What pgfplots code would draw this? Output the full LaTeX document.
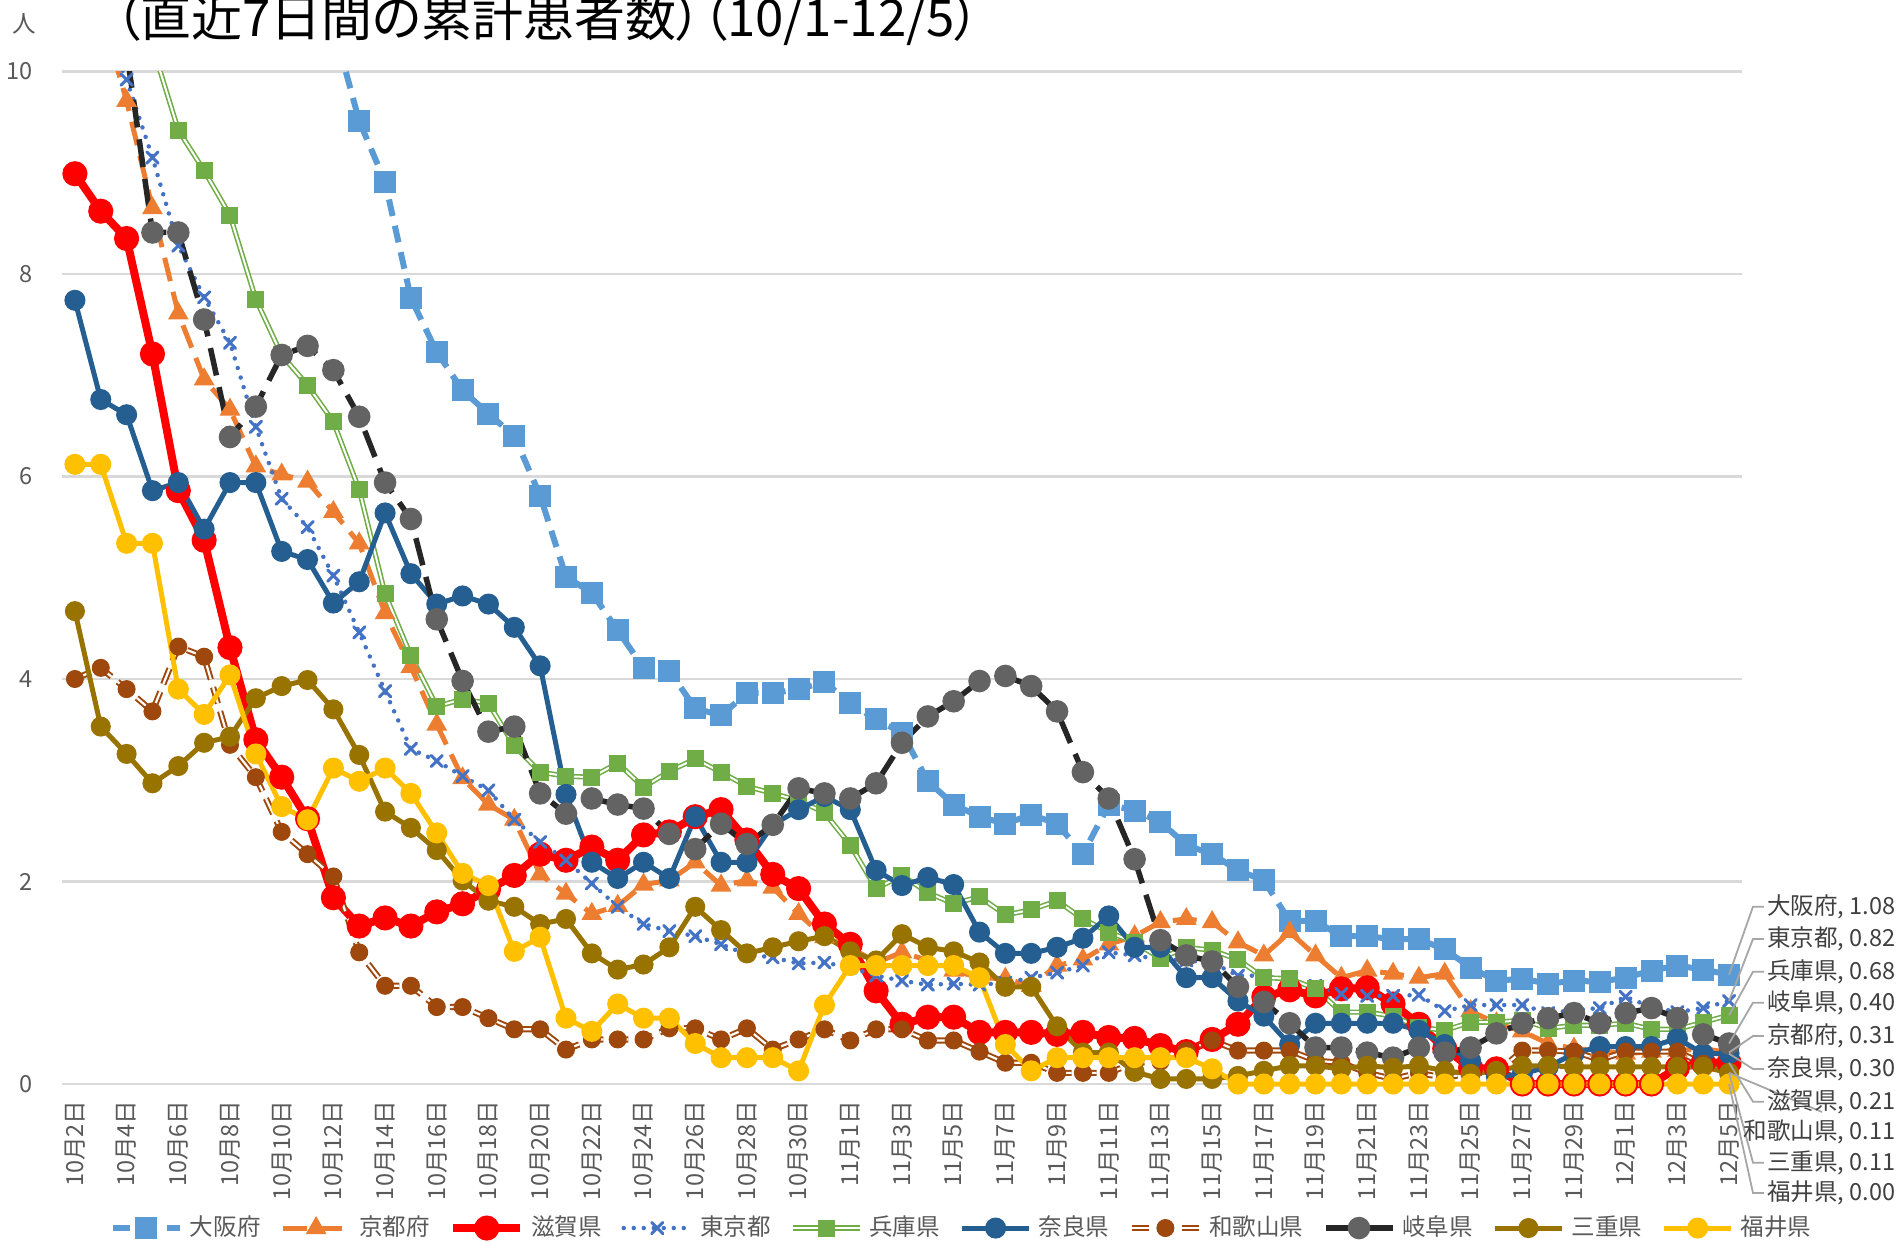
\documentclass[border=0pt]{standalone}
\usepackage{fontspec}
\setmainfont{Noto Sans CJK JP}
\usepackage{pgfplots}
\usepackage{pgfplotstable}
\pgfplotsset{compat=1.18}

\definecolor{cO}{HTML}{5B9BD5}
\definecolor{cK}{HTML}{ED7D31}
\definecolor{cS}{HTML}{FF0000}
\definecolor{cT}{HTML}{4472C4}
\definecolor{cH}{HTML}{70AD47}
\definecolor{cN}{HTML}{255E91}
\definecolor{cW}{HTML}{9E480E}
\definecolor{cGl}{HTML}{262626}
\definecolor{cGm}{HTML}{636363}
\definecolor{cM}{HTML}{997300}
\definecolor{cF}{HTML}{FFC000}
\definecolor{cGrid}{HTML}{D9D9D9}
\definecolor{cTxt}{HTML}{595959}
\definecolor{cLab}{HTML}{404040}
\definecolor{cLead}{HTML}{A6A6A6}

\pgfplotstableread{
i O K S T H N W G M F
0 15.5 11.5 8.99 11.2 12.5 7.74 4.00 11.6 4.67 6.12
1 15.0 10.6 8.62 10.5 11.8 6.76 4.11 11.0 3.53 6.12
2 14.5 9.71 8.35 9.92 11.0 6.61 3.90 10.2 3.26 5.34
3 14.0 8.65 7.21 9.15 10.25 5.86 3.68 8.41 2.97 5.34
4 13.6 7.61 5.86 8.28 9.42 5.94 4.32 8.41 3.14 3.90
5 13.1 6.96 5.37 7.77 9.02 5.48 4.22 7.55 3.37 3.65
6 12.6 6.66 4.31 7.32 8.58 5.94 3.35 6.39 3.43 4.04
7 12.1 6.10 3.40 6.49 7.75 5.94 3.03 6.69 3.81 3.26
8 11.6 6.02 3.03 5.78 7.20 5.26 2.49 7.20 3.93 2.74
9 11.0 5.95 2.62 5.50 6.90 5.18 2.27 7.29 3.99 2.61
10 10.45 5.65 1.84 5.02 6.54 4.75 2.05 7.05 3.70 3.12
11 9.51 5.34 1.56 4.46 5.87 4.96 1.30 6.59 3.25 2.99
12 8.91 4.65 1.64 3.88 4.84 5.64 0.97 5.94 2.69 3.12
13 7.76 4.12 1.56 3.31 4.23 5.04 0.97 5.58 2.53 2.87
14 7.23 3.55 1.70 3.19 3.73 4.74 0.76 4.59 2.31 2.48
15 6.85 3.02 1.78 3.04 3.80 4.82 0.76 3.98 2.01 2.08
16 6.62 2.76 1.92 2.90 3.76 4.74 0.65 3.48 1.81 1.96
17 6.40 2.61 2.06 2.61 3.34 4.51 0.54 3.53 1.75 1.31
18 5.81 2.07 2.27 2.39 3.08 4.13 0.54 2.87 1.58 1.45
19 5.01 1.88 2.21 2.21 3.04 2.86 0.34 2.67 1.63 0.65
20 4.85 1.68 2.34 1.98 3.03 2.19 0.44 2.82 1.29 0.52
21 4.48 1.76 2.21 1.75 3.17 2.03 0.44 2.76 1.13 0.79
22 4.11 1.97 2.46 1.58 2.93 2.19 0.44 2.72 1.18 0.65
23 4.08 2.01 2.49 1.51 3.09 2.03 0.55 2.47 1.35 0.65
24 3.71 2.19 2.64 1.46 3.21 2.64 0.55 2.32 1.75 0.40
25 3.64 1.96 2.71 1.38 3.08 2.19 0.44 2.57 1.52 0.26
26 3.86 2.01 2.41 1.28 2.94 2.19 0.55 2.37 1.29 0.26
27 3.86 1.94 2.07 1.25 2.87 2.56 0.34 2.56 1.35 0.26
28 3.90 1.68 1.93 1.19 2.80 2.71 0.44 2.92 1.41 0.13
29 3.97 1.45 1.58 1.20 2.68 2.84 0.54 2.87 1.46 0.78
30 3.76 1.35 1.38 1.15 2.36 2.71 0.43 2.82 1.31 1.17
31 3.60 1.20 0.92 1.07 1.93 2.11 0.54 2.97 1.22 1.17
32 3.47 1.30 0.59 1.02 2.06 1.96 0.54 3.37 1.48 1.17
33 2.99 1.22 0.66 0.98 1.89 2.04 0.43 3.63 1.35 1.17
34 2.76 1.12 0.66 0.99 1.78 1.97 0.43 3.78 1.31 1.17
35 2.64 1.05 0.51 0.98 1.85 1.50 0.32 3.98 1.20 1.05
36 2.57 1.04 0.51 1.00 1.67 1.29 0.21 4.03 0.96 0.39
37 2.66 0.97 0.51 1.05 1.72 1.29 0.21 3.93 0.96 0.13
38 2.57 1.17 0.49 1.10 1.81 1.35 0.11 3.68 0.57 0.26
39 2.27 1.23 0.51 1.17 1.63 1.44 0.11 3.08 0.31 0.26
40 2.76 1.38 0.46 1.30 1.50 1.66 0.11 2.82 0.31 0.26
41 2.70 1.46 0.45 1.27 1.40 1.35 0.21 2.22 0.12 0.26
42 2.59 1.60 0.38 1.23 1.24 1.35 0.22 1.42 0.05 0.26
43 2.36 1.63 0.32 1.22 1.35 1.05 0.33 1.27 0.05 0.26
44 2.27 1.60 0.44 1.20 1.32 1.05 0.43 1.21 0.05 0.15
45 2.11 1.40 0.59 1.07 1.23 0.82 0.33 0.96 0.08 0
46 2.01 1.27 0.86 1.07 1.05 0.67 0.33 0.81 0.13 0
47 1.61 1.50 0.93 1.02 1.04 0.39 0.33 0.60 0.18 0
48 1.61 1.27 0.87 0.97 0.94 0.60 0.23 0.36 0.18 0
49 1.46 1.05 0.94 0.89 0.71 0.60 0.21 0.36 0.15 0
50 1.46 1.12 0.95 0.87 0.71 0.60 0.11 0.31 0.18 0
51 1.43 1.09 0.79 0.87 0.67 0.60 0.05 0.26 0.16 0
52 1.43 1.05 0.59 0.88 0.56 0.53 0.11 0.36 0.18 0
53 1.33 1.09 0.35 0.72 0.53 0.39 0.06 0.31 0.13 0
54 1.15 0.72 0.16 0.78 0.61 0.23 0.11 0.36 0.10 0
55 1.02 0.60 0.15 0.78 0.61 0.07 0.11 0.50 0.13 0
56 1.04 0.52 0 0.78 0.63 0.10 0.33 0.60 0.18 0
57 0.99 0.40 0 0.70 0.55 0.17 0.33 0.65 0.18 0
58 1.02 0.35 0 0.73 0.58 0.30 0.32 0.70 0.17 0
59 1.01 0.33 0 0.75 0.58 0.37 0.24 0.60 0.17 0
60 1.05 0.30 0 0.86 0.60 0.37 0.32 0.70 0.17 0
61 1.12 0.32 0 0.76 0.54 0.37 0.32 0.75 0.17 0
62 1.17 0.33 0.16 0.71 0.54 0.45 0.32 0.65 0.17 0
63 1.13 0.35 0.21 0.75 0.61 0.30 0.20 0.49 0.17 0
64 1.08 0.31 0.21 0.82 0.68 0.30 0.11 0.40 0.11 0
}\data

\newcommand{\fs}{\fontsize{6.7}{8}\selectfont}

\begin{document}
\begin{tikzpicture}
\begin{axis}[
  at={(6.2mm,12.76mm)}, anchor=south west,
  width=168mm, height=104.29mm, scale only axis,
  xmin=-0.5, xmax=64.5, ymin=-0.3, ymax=10,
  xtick={0,2,...,64},
  xticklabels={10月2日,10月4日,10月6日,10月8日,10月10日,10月12日,10月14日,10月16日,10月18日,10月20日,10月22日,10月24日,10月26日,10月28日,10月30日,11月1日,11月3日,11月5日,11月7日,11月9日,11月11日,11月13日,11月15日,11月17日,11月19日,11月21日,11月23日,11月25日,11月27日,11月29日,12月1日,12月3日,12月5日},
  ytick={0,2,...,10},
  ymajorgrids, major grid style={draw=cGrid, line width=0.22mm},
  axis line style={draw=none}, major tick length=0pt,
  tick label style={font=\fs, text=cTxt},
  xticklabel style={rotate=90, anchor=east, inner sep=0pt},
  xticklabel shift=-1.44mm,
  yticklabel style={anchor=east, inner sep=0pt},
  yticklabel shift=2.9mm,
  /pgf/number format/assume math mode=true,
  legend columns=10,
  legend style={at={(0.537,-0.109)}, anchor=center, draw=none, fill=none,
    font=\fs, text=cTxt, inner sep=0pt,
    /tikz/every even column/.append style={column sep=1.25mm}},
  legend image code/.code={\draw[mark repeat=2,mark phase=2] plot coordinates {(0mm,0mm) (3.35mm,0mm) (6.7mm,0mm)};},
]
\addplot[draw=cO, line width=0.6mm, dash pattern=on 1.7mm off 1.0mm, mark=square*, mark size=0.8mm, mark options={solid, fill=cO, draw=cO}] table[x=i,y=O]{\data};
\addlegendentry{大阪府}
\addplot[draw=cK, line width=0.5mm, dash pattern=on 2.4mm off 1.1mm, mark=triangle*, mark size=0.7mm, mark options={solid, fill=cK, draw=cK}] table[x=i,y=K]{\data};
\addlegendentry{京都府}
\addplot[draw=cS, line width=0.8mm, mark=*, mark size=0.85mm, mark options={solid, fill=cS, draw=cS}] table[x=i,y=S]{\data};
\addlegendentry{滋賀県}
\addplot[draw=cT, line width=0.45mm, line cap=round, dash pattern=on 0pt off 1.0mm, mark=x, mark size=0.8mm, mark options={solid, draw=cT, line width=0.3mm}] table[x=i,y=T]{\data};
\addlegendentry{東京都}
\addplot[draw=cH, line width=0.16mm, double=white, double distance=0.2mm, mark=square*, mark size=0.8mm, mark options={solid, fill=cH, draw=cH, line width=0.1mm}] table[x=i,y=H]{\data};
\addlegendentry{兵庫県}
\addplot[draw=cN, line width=0.5mm, mark=*, mark size=0.8mm, mark options={solid, fill=cN, draw=cN}] table[x=i,y=N]{\data};
\addlegendentry{奈良県}
\addplot[draw=cW, line width=0.2mm, double=white, double distance=0.22mm, dash pattern=on 1.7mm off 0.8mm, mark=*, mark size=0.85mm, mark options={solid, fill=cW, draw=cW, line width=0.1mm}] table[x=i,y=W]{\data};
\addlegendentry{和歌山県}
\addplot[draw=cGl, line width=0.55mm, dash pattern=on 2.8mm off 1.2mm, mark=*, mark size=0.85mm, mark options={solid, fill=cGm, draw=cGm}] table[x=i,y=G]{\data};
\addlegendentry{岐阜県}
\addplot[draw=cM, line width=0.5mm, mark=*, mark size=0.75mm, mark options={solid, fill=cM, draw=cM}] table[x=i,y=M]{\data};
\addlegendentry{三重県}
\addplot[draw=cF, line width=0.5mm, mark=*, mark size=0.8mm, mark options={solid, fill=cF, draw=cF}] table[x=i,y=F]{\data};
\addlegendentry{福井県}

\coordinate (pO) at (axis cs:64,1.08);
\coordinate (pT) at (axis cs:64,0.82);
\coordinate (pH) at (axis cs:64,0.68);
\coordinate (pG) at (axis cs:64,0.40);
\coordinate (pK) at (axis cs:64,0.31);
\coordinate (pN) at (axis cs:64,0.30);
\coordinate (pS) at (axis cs:64,0.21);
\coordinate (pW) at (axis cs:64,0.11);
\coordinate (pM) at (axis cs:64,0.11);
\coordinate (pF) at (axis cs:64,0.00);
\end{axis}

% leader lines
\begin{scope}[draw=cLead, line width=0.18mm]
\draw (pO) -- (175.3mm,33.53mm) -- (176.4mm,33.53mm);
\draw (pT) -- (175.3mm,30.30mm) -- (176.4mm,30.30mm);
\draw (pH) -- (175.3mm,27.03mm) -- (176.4mm,27.03mm);
\draw (pG) -- (175.3mm,23.93mm) -- (176.4mm,23.93mm);
\draw (pK) -- (175.3mm,20.60mm) -- (176.4mm,20.60mm);
\draw (pN) -- (175.3mm,17.30mm) -- (176.4mm,17.30mm);
\draw (pS) -- (175.3mm,14.03mm) -- (176.4mm,14.03mm);
\draw (pW) -- (182.2mm,13.0mm);
\draw (pM) -- (175.3mm,7.93mm) -- (176.4mm,7.93mm);
\draw (pF) -- (175.3mm,4.90mm) -- (176.4mm,4.90mm);
\end{scope}

\begin{scope}[every node/.style={anchor=east, font=\fs, text=cLab, inner sep=0pt}]
\node at (189.6mm,33.53mm) {大阪府, 1.08};
\node at (189.6mm,30.30mm) {東京都, 0.82};
\node at (189.6mm,27.03mm) {兵庫県, 0.68};
\node at (189.6mm,23.93mm) {岐阜県, 0.40};
\node at (189.6mm,20.60mm) {京都府, 0.31};
\node at (189.6mm,17.30mm) {奈良県, 0.30};
\node at (189.6mm,14.03mm) {滋賀県, 0.21};
\node at (189.6mm,11.03mm) {和歌山県, 0.11};
\node at (189.6mm,7.93mm) {三重県, 0.11};
\node at (189.6mm,4.90mm) {福井県, 0.00};
\end{scope}

\node[anchor=base west, font=\fontsize{14.5}{16}\selectfont\addfontfeatures{RawFeature=+palt}, inner sep=0pt] at (11.4mm,120.5mm) {（直近7日間の累計患者数）（10/1-12/5）};
\node[font=\fs, text=cTxt, inner sep=0pt] at (2.4mm,121.8mm) {人};

\pgfresetboundingbox
\path[use as bounding box] (0,0) rectangle (190.1mm,124.2mm);
\end{tikzpicture}
\end{document}
